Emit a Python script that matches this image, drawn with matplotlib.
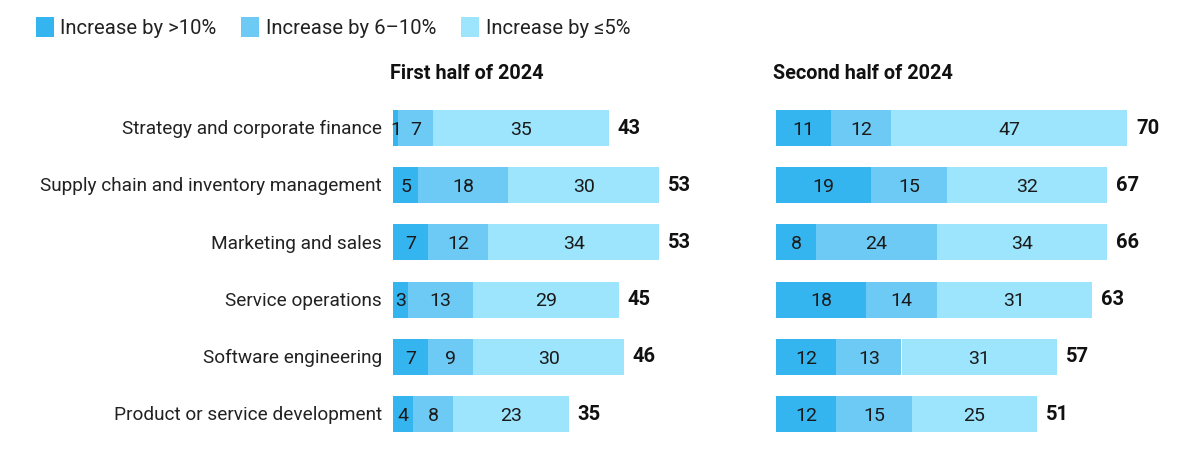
import matplotlib
matplotlib.use("Agg")
import matplotlib.pyplot as plt
from matplotlib.patches import Rectangle

plt.rcParams['font.family'] = ['Roboto', 'DejaVu Sans']

categories = ["Strategy and corporate finance", "Supply chain and inventory management",
              "Marketing and sales", "Service operations", "Software engineering",
              "Product or service development"]
series_names = ["Increase by >10%", "Increase by 6\u201310%", "Increase by \u22645%"]
first_gt10 = [1, 5, 7, 3, 7, 4]
first_6_10 = [7, 18, 12, 13, 9, 8]
first_le5 = [35, 30, 34, 29, 30, 23]
first_total = [43, 53, 53, 45, 46, 35]
second_gt10 = [11, 19, 8, 18, 12, 12]
second_6_10 = [12, 15, 24, 14, 13, 15]
second_le5 = [47, 32, 34, 31, 31, 25]
second_total = [70, 67, 66, 63, 57, 51]
panel_titles = ["First half of 2024", "Second half of 2024"]

colors = ["#34b5f0", "#6ccaf5", "#9de4fd"]

W, H = 1200, 461
fig = plt.figure(figsize=(W / 100, H / 100), dpi=100)
fs_cat = 13.7
fs_val = 14
fs_tot = 14.5
fs_title = 14.3
fs_leg = 14.6

px_unit = 5.02
xmax = 75
ax_w = xmax * px_unit
top_px, bot_px = 99.4, 442.6

def make_ax(left_px):
    return fig.add_axes([left_px / W, 1 - bot_px / H, ax_w / W, (bot_px - top_px) / H])

panels = [
    (make_ax(393), [first_gt10, first_6_10, first_le5], first_total),
    (make_ax(776), [second_gt10, second_6_10, second_le5], second_total),
]

for pi, (ax, segs, totals) in enumerate(panels):
    y = list(range(len(categories)))
    left = [0] * len(categories)
    for si, vals in enumerate(segs):
        ax.barh(y, vals, left=left, height=0.63, color=colors[si], edgecolor="none")
        for yi, (v, l) in enumerate(zip(vals, left)):
            ax.text(l + v / 2, yi + 0.03, str(v), ha="center", va="center", fontsize=fs_val, color="#1a1a1a")
        left = [a + b for a, b in zip(left, vals)]
    for yi, (t, end) in enumerate(zip(totals, left)):
        ax.text(end + 1.8, yi, str(t), ha="left", va="center", fontsize=fs_tot, fontweight="bold", color="#111111")
    ax.set_xlim(0, xmax)
    ax.set_ylim(len(categories) - 0.5, -0.5)
    ax.axis("off")
    ax.text(-0.6, -0.96, panel_titles[pi], ha="left", va="center", fontsize=fs_title, fontweight="bold", color="#111111")
    if pi == 0:
        for yi, c in enumerate(categories):
            ax.text(-2.2, yi + 0.02, c, ha="right", va="center", fontsize=fs_cat, color="#222222")

# legend
leg_items = [(36, 60), (241, 266), (461, 486)]
for (px, tx), name, col in zip(leg_items, series_names, colors):
    fig.patches.append(Rectangle((px / W, 1 - 37 / H), 18 / W, 20 / H, transform=fig.transFigure,
                                 facecolor=col, edgecolor="none"))
    fig.text(tx / W, 1 - 28 / H, name, ha="left", va="center", fontsize=fs_leg, color="#222222")

fig.savefig("out.png", dpi=100)
